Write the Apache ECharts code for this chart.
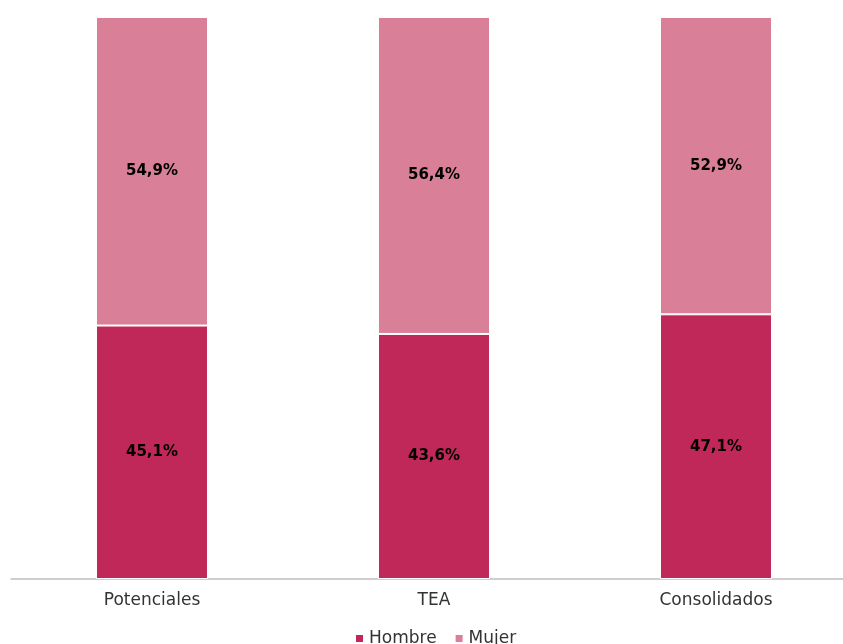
<!DOCTYPE html>
<html><head><meta charset="utf-8">
<script src="https://cdn.jsdelivr.net/npm/echarts@6/dist/echarts.min.js"></script>
<style>html,body{margin:0;padding:0;background:#fff}#c{width:843px;height:644px}</style>
</head><body><div id="c"></div>
<script>
const categories = ['Potenciales', 'TEA', 'Consolidados'];
const hombre = [45.1, 43.6, 47.1];
const mujer = [54.9, 56.4, 52.9];
const seriesNames = ['Hombre', 'Mujer'];
const fmt = p => p.value.toFixed(1).replace('.', ',') + '%';
const chart = echarts.init(document.getElementById('c'));
const FF = '"DejaVu Sans", sans-serif';
const lbl = {show: true, position: 'inside', formatter: fmt, color: '#000', fontWeight: 'bold', fontSize: 15, fontFamily: FF};
chart.setOption({
  animation: false,
  grid: {left: 11, top: 17, right: -14, bottom: 65, containLabel: false, outerBoundsMode: 'none'},
  legend: {bottom: -8, left: 349, itemWidth: 9, itemHeight: 9, icon: 'rect', itemGap: 17, itemTextGap: 4,
    textStyle: {fontSize: 17, color: '#333', fontFamily: FF}},
  xAxis: {type: 'category', data: categories,
    axisLine: {lineStyle: {color: '#bfbfbf', width: 1.5}}, axisTick: {show: false},
    axisLabel: {fontSize: 17, color: '#333', margin: 13, fontFamily: FF}},
  yAxis: {type: 'value', min: 0, max: 100, show: false, splitLine: {show: false}},
  series: [
    {name: seriesNames[0], type: 'bar', stack: 't', data: hombre, barWidth: 112,
      itemStyle: {color: '#C0285A', borderColor: '#fff', borderWidth: 1}, label: lbl},
    {name: seriesNames[1], type: 'bar', stack: 't', data: mujer, barWidth: 112,
      itemStyle: {color: '#D98098', borderColor: '#fff', borderWidth: 1}, label: lbl}
  ]
});
</script></body></html>
